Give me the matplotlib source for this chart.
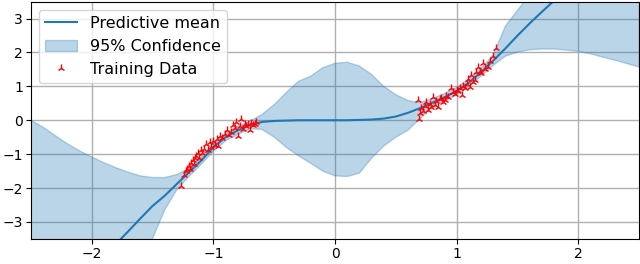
import matplotlib
matplotlib.use("Agg")
import matplotlib.pyplot as plt

# predictive curve
grid_x = [-2.5, -2.4, -2.3, -2.2, -2.1, -2.0, -1.9, -1.8, -1.7, -1.6,
          -1.5, -1.4, -1.3, -1.2, -1.1, -1.0, -0.9, -0.8, -0.7, -0.6,
          -0.5, -0.4, -0.3, -0.2, -0.1, 0.0, 0.1, 0.2, 0.3, 0.4,
          0.5, 0.6, 0.7, 0.8, 0.9, 1.0, 1.1, 1.2, 1.3, 1.4,
          1.5, 1.6, 1.7, 1.8, 1.9, 2.0, 2.1, 2.2, 2.3, 2.4, 2.5]
mean_y = [-6.30, -5.92, -5.54, -5.16, -4.78, -4.40, -4.02, -3.65, -3.28, -2.90,
          -2.53, -2.23, -1.88, -1.54, -1.19, -0.80, -0.50, -0.30, -0.14, -0.05,
          -0.02, -0.01, 0.00, 0.00, 0.00, 0.00, 0.00, 0.01, 0.02, 0.05,
          0.11, 0.22, 0.36, 0.52, 0.68, 0.86, 1.11, 1.42, 1.76, 2.12,
          2.50, 2.86, 3.20, 3.53, 3.87, 4.21, 4.55, 4.89, 5.23, 5.57, 5.91]
lower_y = [-12.6, -11.6, -10.7, -9.7, -8.8, -7.8, -6.9, -6.0, -5.1, -4.25,
           -3.50, -2.65, -2.05, -1.66, -1.30, -0.92, -0.61, -0.42, -0.25, -0.27,
           -0.50, -0.80, -1.05, -1.27, -1.50, -1.64, -1.66, -1.56, -1.12, -0.76,
           -0.50, -0.29, 0.05, 0.40, 0.57, 0.75, 1.00, 1.30, 1.62, 1.89,
           2.01, 2.08, 2.10, 2.10, 2.07, 2.03, 1.96, 1.86, 1.77, 1.67, 1.57]
upper_y = [0.00, -0.20, -0.45, -0.69, -0.90, -1.08, -1.25, -1.40, -1.53, -1.64,
           -1.69, -1.69, -1.60, -1.42, -1.08, -0.68, -0.39, -0.18, -0.03, 0.17,
           0.46, 0.82, 1.15, 1.30, 1.55, 1.68, 1.71, 1.60, 1.35, 1.00,
           0.75, 0.58, 0.52, 0.64, 0.79, 0.97, 1.22, 1.54, 1.92, 2.78,
           3.25, 3.70, 4.20, 4.70, 5.20, 5.80, 6.40, 7.00, 7.60, 8.30, 9.00]

# training points
train_x = [-1.262, -1.240, -1.228, -1.215, -1.200, -1.190, -1.180, -1.170, -1.160, -1.153,
           -1.140, -1.128, -1.115, -1.100, -1.090, -1.075, -1.060, -1.045, -1.030, -1.015,
           -1.000, -0.985, -0.972, -0.960, -0.945, -0.930, -0.906, -0.890, -0.875, -0.852,
           -0.838, -0.824, -0.810, -0.797, -0.783, -0.770, -0.756, -0.740, -0.728, -0.715,
           -0.700, -0.687, -0.674, -0.660, -0.646,
           0.682, 0.690, 0.696, 0.710, 0.725, 0.737, 0.751, 0.764, 0.778, 0.792,
           0.805, 0.819, 0.833, 0.846, 0.860, 0.874, 0.888, 0.901, 0.915, 0.930,
           0.956, 0.970, 0.984, 1.000, 1.012, 1.025, 1.039, 1.052, 1.066, 1.080,
           1.093, 1.107, 1.121, 1.135, 1.148, 1.162, 1.175, 1.189, 1.203, 1.216,
           1.230, 1.257, 1.271, 1.300, 1.326]
train_y = [-1.95, -1.62, -1.50, -1.44, -1.36, -1.45, -1.27, -1.18, -1.30, -1.10,
           -1.05, -0.98, -1.12, -0.88, -0.98, -0.84, -0.70, -0.88, -0.64, -0.78,
           -0.60, -0.72, -0.55, -0.76, -0.45, -0.52, -0.40, -0.30, -0.44, -0.35,
           -0.14, -0.24, -0.05, -0.45, -0.16, 0.03, -0.26, -0.10, -0.18, -0.12,
           -0.30, -0.07, -0.15, -0.10, -0.04,
           0.61, 0.03, 0.20, 0.35, 0.28, 0.42, 0.55, 0.30, 0.48, 0.38,
           0.68, 0.46, 0.56, 0.40, 0.62, 0.66, 0.54, 0.61, 0.72, 0.68,
           0.95, 0.82, 0.78, 0.90, 0.85, 0.96, 0.74, 1.02, 0.94, 1.06,
           1.23, 0.98, 1.33, 1.12, 1.20, 1.43, 1.57, 1.46, 1.38, 1.68,
           1.52, 1.57, 1.74, 1.90, 2.12]

x_ticks = [-2, -1, 0, 1, 2]
y_ticks = [-3, -2, -1, 0, 1, 2, 3]


def main():
    fig = plt.figure(figsize=(6.4, 2.64), dpi=100)
    ax = fig.add_axes([0.048, 0.095, 0.951, 0.899])

    ax.plot(grid_x, mean_y, color='C0', lw=1.5, label='Predictive mean')
    ax.fill_between(grid_x, lower_y, upper_y, color='C0', alpha=0.3,
                    label='95% Confidence')
    ax.plot(train_x, train_y, '2', color='red', ms=6, label='Training Data')

    ax.set_xlim(-2.5, 2.5)
    ax.set_ylim(-3.5, 3.5)
    ax.set_xticks(x_ticks)
    ax.set_yticks(y_ticks)
    ax.tick_params(labelsize=10, pad=2)
    ax.grid(True, color='#b0b0b0', lw=1)
    ax.set_axisbelow(True)
    ax.legend(loc='upper left', fontsize=11.5)

    fig.savefig('out.png', dpi=100)


if __name__ == '__main__':
    main()
